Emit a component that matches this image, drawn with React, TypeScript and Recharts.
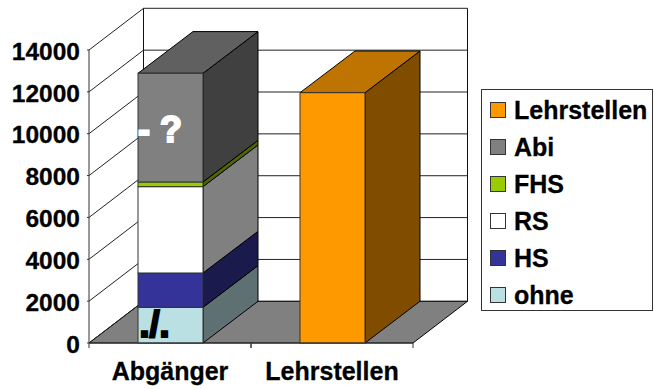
import React from "react";
import { BarChart, Bar, XAxis, YAxis, CartesianGrid, Legend } from "recharts";

const categories = ["Abgänger", "Lehrstellen"];
const yTicks = [0, 2000, 4000, 6000, 8000, 10000, 12000, 14000];
const ohne = [1706, null];
const hs = [1640, null];
const rs = [4124, null];
const fhs = [224, null];
const abi = [5193, null];
const lehrstellen = [null, 11960];

const data = categories.map((name, i) => ({
  name,
  ohne: ohne[i],
  HS: hs[i],
  RS: rs[i],
  FHS: fhs[i],
  Abi: abi[i],
  Lehrstellen: lehrstellen[i],
}));

const FONT = '"Liberation Sans", Arial, sans-serif';
const WALL_DX = 54.5;
const WALL_DY = 41.7;
const BAR_DX = 55;
const BAR_DY = 41.7;
const PLOT_LEFT = 89;
const PLOT_WIDTH = 324;

const seriesStyle = [
  { key: "ohne", fill: "#BBE0E3", side: "#5E7072" },
  { key: "HS", fill: "#333399", side: "#1A1A4D" },
  { key: "RS", fill: "#FFFFFF", side: "#808080" },
  { key: "FHS", fill: "#99CC00", side: "#4D6600" },
  { key: "Abi", fill: "#808080", side: "#404040", top: "#606060", note: "- ?", noteFill: "#FFFFFF" },
  { key: "Lehrstellen", fill: "#FF9900", side: "#804D00", top: "#BF7300" },
];

const legendOrder = ["Lehrstellen", "Abi", "FHS", "RS", "HS", "ohne"];

// Draws one stacked segment as a box: front face, side face and, for the top segment, a lid.
const boxShape = (s: any) => (props: any) => {
  const { x, y, width, height } = props;
  if (!height || height <= 0) return <g />;
  const r = x + width;
  const b = y + height;
  return (
    <g>
      <polygon
        points={`${r},${b} ${r + BAR_DX},${b - BAR_DY} ${r + BAR_DX},${y - BAR_DY} ${r},${y}`}
        fill={s.side}
        stroke="#000"
        strokeWidth={1}
        strokeLinejoin="round"
      />
      {s.top && (
        <polygon
          points={`${x},${y} ${x + BAR_DX},${y - BAR_DY} ${r + BAR_DX},${y - BAR_DY} ${r},${y}`}
          fill={s.top}
          stroke="#000"
          strokeWidth={1}
        />
      )}
      <rect x={x} y={y} width={width} height={height} fill={s.fill} stroke="#333" strokeWidth={1} />
      {s.note && (
        <text
          x={x}
          y={y + 68.5}
          fontFamily={FONT}
          fontWeight="bold"
          fontSize={36}
          fill={s.noteFill}
          stroke={s.noteFill}
          strokeWidth={2}
        >
          {s.note}
        </text>
      )}
      {s.key === "ohne" && (
        <text x={x + 1.5} y={b - 6} fontFamily={FONT} fontWeight="bold" fontSize={36} fill="#000" stroke="#000" strokeWidth={2.2}>
          ./.
        </text>
      )}
    </g>
  );
};

// Each horizontal grid line runs up the side wall and across the back wall;
// the baseline also carries the floor and the wall outlines.
const gridLine = (p: any) => {
  const { x1, x2, y1, index } = p;
  const y = y1;
  const isBase = Math.abs(y - 343) < 0.5;
  const isTop = Math.abs(y - 50) < 0.5;
  return (
    <g key={`wall-${index}`}>
      {isBase && (
        <polygon
          points={`${x1},${y} ${x1 + WALL_DX},${y - WALL_DY} ${x2 + WALL_DX},${y - WALL_DY} ${x2},${y}`}
          fill="#808080"
          stroke="#000"
          strokeWidth={1}
        />
      )}
      {isTop && (
        <g fill="none" stroke="#111" strokeWidth={1}>
          <line x1={x1 + WALL_DX} y1={y - WALL_DY} x2={x1 + WALL_DX} y2={343 - WALL_DY} />
          <line x1={x2 + WALL_DX} y1={y - WALL_DY} x2={x2 + WALL_DX} y2={343 - WALL_DY} />
        </g>
      )}
      <polyline
        points={`${x1},${y} ${x1 + WALL_DX},${y - WALL_DY} ${x2 + WALL_DX},${y - WALL_DY}`}
        fill="none"
        stroke="#222"
        strokeWidth={1}
      />
    </g>
  );
};

const categoryTick = (p: any) => {
  const half = PLOT_WIDTH / 4;
  return (
    <g>
      <line x1={p.x - half} y1={p.y - 8} x2={p.x - half} y2={p.y - 3} stroke="#333" />
      <line x1={p.x + half} y1={p.y - 8} x2={p.x + half} y2={p.y - 3} stroke="#333" />
      <text
        x={p.x}
        y={p.y + 29}
        textAnchor="middle"
        fontFamily={FONT}
        fontWeight="bold"
        fontSize={25}
        fill="#000"
        stroke="#000"
        strokeWidth={0.3}
      >
        {p.payload.value}
      </text>
    </g>
  );
};

const legendContent = () => (
  <div
    style={{
      width: 172,
      height: 222,
      boxSizing: "border-box",
      border: "1px solid #333",
      background: "#fff",
      fontFamily: FONT,
      fontWeight: "bold",
      fontSize: 25,
      color: "#000",
      position: "relative",
      WebkitTextStroke: "0.3px #000",
    }}
  >
    {legendOrder.map((name, i) => {
      const s = seriesStyle.find((v) => v.key === name)!;
      return (
        <div key={name} style={{ position: "absolute", left: 8, top: 12 + i * 37, height: 17, whiteSpace: "nowrap" }}>
          <span
            style={{
              position: "absolute",
              left: 0,
              top: 0,
              width: 16,
              height: 16,
              boxSizing: "border-box",
              background: s.fill,
              border: "1px solid #333",
            }}
          />
          <span style={{ position: "absolute", left: 24, top: -6.5, lineHeight: "28px" }}>{name}</span>
        </div>
      );
    })}
  </div>
);

export default function App() {
  return (
    <div style={{ position: "absolute", left: 0, top: 0 }}>
      <BarChart
        width={654}
        height={389}
        data={data}
        margin={{ top: 50, right: 241, bottom: 0, left: 0 }}
        barSize={65}
      >
        <CartesianGrid vertical={false} horizontal={gridLine as any} />
        <XAxis
          dataKey="name"
          height={46}
          interval={0}
          tickLine={false}
          tick={categoryTick as any}
          stroke="#333"
        />
        <YAxis
          width={PLOT_LEFT}
          domain={[0, 14000]}
          ticks={yTicks}
          interval={0}
          tickSize={2}
          tickMargin={7}
          stroke="#333"
          tick={{ fontFamily: FONT, fontWeight: "bold", fontSize: 24.5, fill: "#000", stroke: "#000", strokeWidth: 0.3, dy: 1 }}
        />
        <Legend
          layout="vertical"
          align="center"
          verticalAlign="middle"
          content={legendContent}
          wrapperStyle={{ left: 481, top: 89, width: 172, height: 222 }}
        />
        {seriesStyle.map((s) => (
          <Bar key={s.key} dataKey={s.key} stackId="a" fill={s.fill} isAnimationActive={false} shape={boxShape(s) as any} />
        ))}
      </BarChart>
    </div>
  );
}
